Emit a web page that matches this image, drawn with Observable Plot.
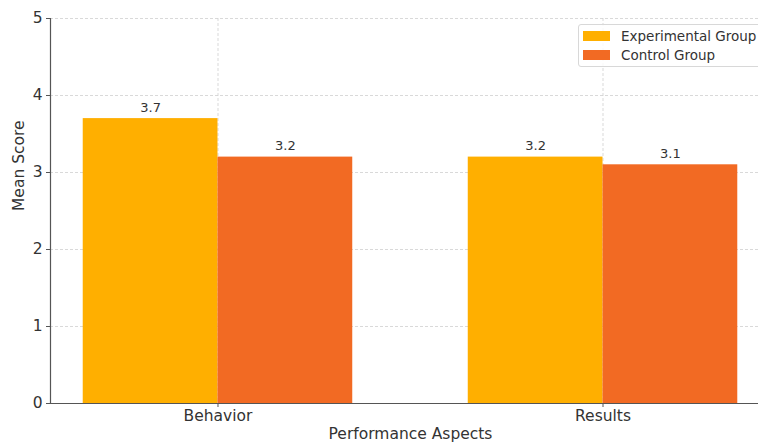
<!DOCTYPE html>
<html>
<head>
<meta charset="utf-8">
<script src="https://cdn.jsdelivr.net/npm/d3@7"></script>
<script src="https://cdn.jsdelivr.net/npm/@observablehq/plot@0.6"></script>
<style>
  html, body { margin: 0; padding: 0; background: #fff; overflow: hidden; width: 758px; height: 443px; }
  #wrap { position: relative; width: 758px; height: 443px; overflow: hidden; font-family: "DejaVu Sans", sans-serif; }
  #wrap svg { max-width: none !important; position: absolute; left: 0; top: 0; }
  #legend { position: absolute; left: 578px; top: 24px; width: 200px; height: 43px; border: 1px solid #d8d8d8; border-radius: 3px; background: rgba(255,255,255,0.85); box-sizing: border-box; }
  .item { position: absolute; left: 4px; display: flex; align-items: center; font-size: 13.5px; color: #333; white-space: nowrap; line-height: 16px; }
  .sw { width: 27px; height: 10px; margin-right: 11px; }
</style>
</head>
<body>
<div id="wrap"></div>
<script>
const aspects = ["Behavior", "Results"];
const groups = ["Experimental Group", "Control Group"];
const experimental = [3.7, 3.2];
const control = [3.2, 3.1];
const yTicks = [0, 1, 2, 3, 4, 5];
const colors = ["#FFAF00", "#F26A23"];
const barWidth = 0.35;
const xDomain = [-0.435, 1.435];

const rows = aspects.flatMap((a, i) => [
  {aspect: a, group: groups[0], score: experimental[i], x1: i - barWidth, x2: i},
  {aspect: a, group: groups[1], score: control[i], x1: i, x2: i + barWidth}
]);

const chart = Plot.plot({
  width: 770,
  height: 443,
  marginLeft: 50,
  marginRight: 0,
  marginTop: 18,
  marginBottom: 40,
  style: {fontFamily: "DejaVu Sans, sans-serif", fontSize: "15.5px", color: "#333", background: "transparent", maxWidth: "none"},
  x: {domain: xDomain, axis: null},
  y: {domain: [0, 5], axis: null},
  color: {domain: groups, range: colors},
  marks: [
    Plot.gridY(yTicks, {stroke: "#cfcfcf", strokeOpacity: 1, strokeWidth: 0.8, strokeDasharray: "3,2"}),
    Plot.gridX([0, 1], {stroke: "#cfcfcf", strokeOpacity: 1, strokeWidth: 0.8, strokeDasharray: "3,2"}),
    Plot.rectY(rows, {x1: "x1", x2: "x2", y1: 0, y2: "score", fill: "group"}),
    Plot.text(rows, {x: d => (d.x1 + d.x2) / 2, y: "score", text: d => d.score.toFixed(1), dy: -11, fontSize: 13, fill: "#333"}),
    Plot.ruleY([0], {stroke: "#555", strokeWidth: 1.2}),
    Plot.ruleX([xDomain[0]], {stroke: "#555", strokeWidth: 1.2}),
    Plot.axisY(yTicks, {tickSize: 4, tickPadding: 4, fontSize: 15.5, stroke: "#555", fill: "#333", label: null, tickFormat: d => d}),
    Plot.axisX([0, 1], {tickSize: 4, tickPadding: 2, fontSize: 15.5, stroke: "#555", fill: "#333", tickFormat: i => aspects[i], label: null}),
    Plot.text(["Mean Score"], {frameAnchor: "left", dx: -31, rotate: -90, fontSize: 15.5, fill: "#333"}),
    Plot.text(["Performance Aspects"], {frameAnchor: "bottom", dy: 35, fontSize: 15.5, fill: "#333"})
  ]
});
document.getElementById("wrap").appendChild(chart);

const legend = document.createElement("div");
legend.id = "legend";
groups.forEach((g, i) => {
  const item = document.createElement("div");
  item.className = "item";
  item.style.top = (3 + i * 19) + "px";
  const sw = document.createElement("span");
  sw.className = "sw";
  sw.style.background = colors[i];
  const t = document.createElement("span");
  t.textContent = g;
  item.appendChild(sw);
  item.appendChild(t);
  legend.appendChild(item);
});
document.getElementById("wrap").appendChild(legend);
</script>
</body>
</html>
